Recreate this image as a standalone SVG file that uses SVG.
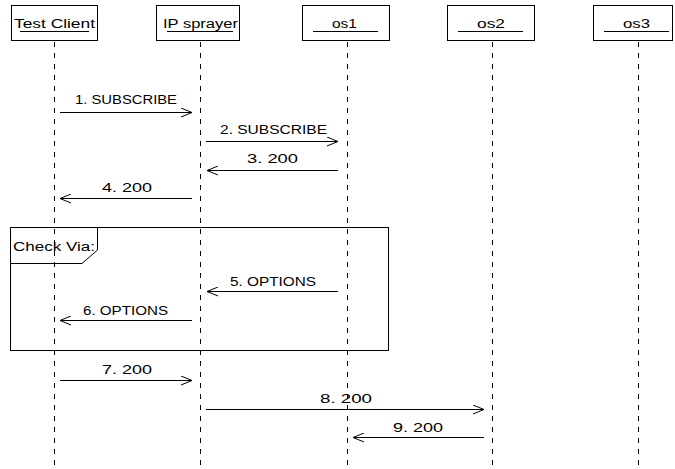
<svg xmlns="http://www.w3.org/2000/svg" width="675" height="469" viewBox="0 0 675 469">
  <style>
    .box { fill: #fff; stroke: #000; stroke-width: 1; }
    .uline { stroke: #000; stroke-width: 1; }
    .life { stroke: #000; stroke-width: 1; stroke-dasharray: 5 6; fill: none; }
    .msg { stroke: #000; stroke-width: 1; fill: none; }
    .frame { stroke: #000; stroke-width: 1; fill: none; }
    text { font-family: "Liberation Sans", Arial, sans-serif; font-size: 12px; fill: #000; }
  </style>
  <defs>
    <marker id="open" viewBox="0 0 12 10" refX="11" refY="5" markerWidth="12" markerHeight="10" markerUnits="userSpaceOnUse" orient="auto">
      <path d="M0,0.5 L11,5 L0,9.5" fill="none" stroke="#000" stroke-width="1"/>
    </marker>
  </defs>
  <rect width="675" height="469" fill="#fff"/>

  <!-- lifelines -->
  <g id="lifelines">
    <line class="life" x1="54.5" y1="42" x2="54.5" y2="469"/>
    <line class="life" x1="200.5" y1="42" x2="200.5" y2="469"/>
    <line class="life" x1="347.5" y1="42" x2="347.5" y2="469"/>
    <line class="life" x1="492.5" y1="42" x2="492.5" y2="469"/>
    <line class="life" x1="638.5" y1="42" x2="638.5" y2="469"/>
  </g>

  <!-- participants -->
  <g id="test-client">
    <rect class="box" x="11.5" y="5.5" width="86" height="35"/>
    <text x="14" y="28" textLength="81" lengthAdjust="spacingAndGlyphs">Test Client</text>
    <line class="uline" x1="20" y1="31.5" x2="89" y2="31.5"/>
  </g>
  <g id="ip-sprayer">
    <rect class="box" x="156.5" y="5.5" width="83" height="35"/>
    <text x="163" y="28" textLength="75" lengthAdjust="spacingAndGlyphs">IP sprayer</text>
    <line class="uline" x1="167" y1="31.5" x2="233" y2="31.5"/>
  </g>
  <g id="os1">
    <rect class="box" x="302.5" y="5.5" width="87" height="35"/>
    <text x="332" y="28" textLength="25" lengthAdjust="spacingAndGlyphs">os1</text>
    <line class="uline" x1="313" y1="31.5" x2="378" y2="31.5"/>
  </g>
  <g id="os2">
    <rect class="box" x="447.5" y="5.5" width="87" height="35"/>
    <text x="477" y="28" textLength="28" lengthAdjust="spacingAndGlyphs">os2</text>
    <line class="uline" x1="458" y1="31.5" x2="523" y2="31.5"/>
  </g>
  <g id="os3">
    <rect class="box" x="593.5" y="5.5" width="79" height="35"/>
    <text x="623" y="28" textLength="27" lengthAdjust="spacingAndGlyphs">os3</text>
    <line class="uline" x1="604" y1="31.5" x2="669" y2="31.5"/>
  </g>

  <!-- combined fragment -->
  <g id="check-via">
    <rect class="frame" x="10.5" y="227.5" width="378" height="123"/>
    <path class="frame" d="M97.5,227.5 V250 L82,263.5 H10.5"/>
    <text x="13" y="251" textLength="82" lengthAdjust="spacingAndGlyphs">Check Via:</text>
  </g>

  <!-- messages -->
  <g id="connectors">
    <line class="msg" x1="60" y1="112.5" x2="192" y2="112.5" marker-end="url(#open)"/>
    <text x="75" y="104" textLength="102" lengthAdjust="spacingAndGlyphs">1. SUBSCRIBE</text>

    <line class="msg" x1="206" y1="141.5" x2="338" y2="141.5" marker-end="url(#open)"/>
    <text x="220" y="134" textLength="107" lengthAdjust="spacingAndGlyphs">2. SUBSCRIBE</text>

    <line class="msg" x1="338" y1="170.5" x2="207" y2="170.5" marker-end="url(#open)"/>
    <text x="247" y="163" textLength="51" lengthAdjust="spacingAndGlyphs">3. 200</text>

    <line class="msg" x1="192" y1="198.5" x2="60" y2="198.5" marker-end="url(#open)"/>
    <text x="102" y="192" textLength="50" lengthAdjust="spacingAndGlyphs">4. 200</text>

    <line class="msg" x1="338" y1="291.5" x2="207" y2="291.5" marker-end="url(#open)"/>
    <text x="230" y="286" textLength="86" lengthAdjust="spacingAndGlyphs">5. OPTIONS</text>

    <line class="msg" x1="192" y1="320.5" x2="60" y2="320.5" marker-end="url(#open)"/>
    <text x="83" y="315" textLength="85" lengthAdjust="spacingAndGlyphs">6. OPTIONS</text>

    <line class="msg" x1="60" y1="380.5" x2="192" y2="380.5" marker-end="url(#open)"/>
    <text x="102" y="374" textLength="50" lengthAdjust="spacingAndGlyphs">7. 200</text>

    <line class="msg" x1="206" y1="409.5" x2="484" y2="409.5" marker-end="url(#open)"/>
    <text x="320" y="403" textLength="52" lengthAdjust="spacingAndGlyphs">8. 200</text>

    <line class="msg" x1="484" y1="437.5" x2="353" y2="437.5" marker-end="url(#open)"/>
    <text x="393" y="432" textLength="50" lengthAdjust="spacingAndGlyphs">9. 200</text>
  </g>
</svg>
